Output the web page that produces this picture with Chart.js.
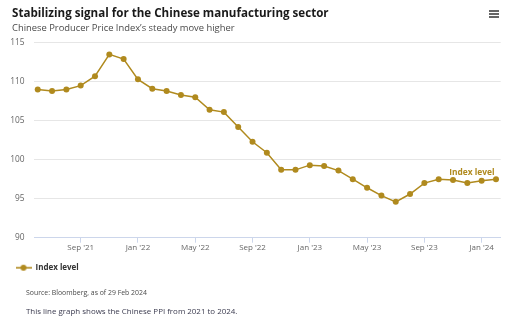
<!DOCTYPE html>
<html>
<head>
<meta charset="utf-8">
<script src="https://cdn.jsdelivr.net/npm/chart.js@4/dist/chart.umd.min.js"></script>
<style>
  html, body { margin: 0; padding: 0; background: #ffffff; }
  #wrap { position: relative; width: 512px; height: 327px; overflow: hidden; font-family: "Open Sans", sans-serif; }
  #wrap canvas { position: absolute; left: 0; top: 0; }
  .txt { position: absolute; white-space: nowrap; line-height: 1.362; }
  #title { left: 12px; top: 4.7px; font-size: 11.6px; font-weight: 700; color: #1a1a1a; }
  #subtitle { left: 12px; top: 21.7px; font-size: 9.4px; color: #4a4a4a; }
  #source { left: 26px; top: 287.6px; font-size: 6.9px; color: #4a4a4a; }
  #caption { left: 26px; top: 306.2px; font-size: 7.95px; color: #3b3b4f; }
  #menu { position: absolute; left: 489px; top: 10px; width: 10px; }
  #menu span { display: block; height: 1.6px; background: #666; margin-bottom: 1.6px; }
</style>
</head>
<body>
<div id="wrap">
  <canvas id="c" width="512" height="327"></canvas>
  <div class="txt" id="title">Stabilizing signal for the Chinese manufacturing sector</div>
  <div class="txt" id="subtitle">Chinese Producer Price Index’s steady move higher</div>
  <div id="menu"><span></span><span></span><span></span></div>
  <div class="txt" id="source">Source: Bloomberg, as of 29 Feb 2024</div>
  <div class="txt" id="caption">This line graph shows the Chinese PPI from 2021 to 2024.</div>
</div>
<script>
// ---- data ----
const months = [
  '2021-05','2021-06','2021-07','2021-08','2021-09','2021-10','2021-11','2021-12',
  '2022-01','2022-02','2022-03','2022-04','2022-05','2022-06','2022-07','2022-08',
  '2022-09','2022-10','2022-11','2022-12','2023-01','2023-02','2023-03','2023-04',
  '2023-05','2023-06','2023-07','2023-08','2023-09','2023-10','2023-11','2023-12',
  '2024-01'
];
const indexLevel = [
  109.0, 108.8, 109.0, 109.5, 110.7, 113.5, 112.9, 110.3,
  109.1, 108.8, 108.3, 108.0, 106.4, 106.1, 104.2, 102.3,
  100.9, 98.7, 98.7, 99.3, 99.2, 98.6, 97.5, 96.4,
  95.4, 94.6, 95.6, 97.0, 97.5, 97.4, 97.0, 97.3,
  97.5
];
const tickMonths = ['2021-09','2022-01','2022-05','2022-09','2023-01','2023-05','2023-09','2024-01'];
const tickLabels = ["Sep '21","Jan '22","May '22","Sep '22","Jan '23","May '23","Sep '23","Jan '24"];
const yTicks = [90, 95, 100, 105, 110, 115];
const seriesName = 'Index level';

// ---- helpers ----
// month offset from Jan 2021 at the start of a month
function monthStart(m) { const [y, mo] = m.split('-').map(Number); return (y - 2021) * 12 + (mo - 1); }
// monthly readings are stamped at month end (= start of next month)
const points = months.map((m, i) => ({ x: monthStart(m) + 1, y: indexLevel[i] }));
const tickPos = tickMonths.map(monthStart);

const GOLD = '#b08a1e';
const FONT = '"Open Sans", sans-serif';

// legend symbol: line with a dot
const sym = document.createElement('canvas');
sym.width = 16; sym.height = 8;
(function () {
  const g = sym.getContext('2d');
  g.strokeStyle = GOLD; g.lineWidth = 1.6;
  g.beginPath(); g.moveTo(0, 4); g.lineTo(16, 4); g.stroke();
  g.fillStyle = GOLD; g.beginPath(); g.arc(8, 4, 3, 0, Math.PI * 2); g.fill();
})();

const endLabel = {
  id: 'endLabel',
  afterDatasetsDraw(chart) {
    const meta = chart.getDatasetMeta(0);
    const last = meta.data[meta.data.length - 1];
    const ctx = chart.ctx;
    ctx.save();
    ctx.font = '700 8.4px ' + FONT;
    ctx.fillStyle = GOLD;
    ctx.textAlign = 'right';
    ctx.textBaseline = 'middle';
    ctx.fillText(chart.data.datasets[0].label, last.x - 1.5, last.y - 6.6);
    ctx.restore();
  }
};

new Chart(document.getElementById('c'), {
  type: 'line',
  data: {
    datasets: [{
      label: seriesName,
      data: points,
      borderColor: GOLD,
      backgroundColor: GOLD,
      borderWidth: 1.5,
      pointRadius: 3,
      pointHoverRadius: 3,
      pointBorderWidth: 0,
      pointBackgroundColor: GOLD,
      tension: 0
    }]
  },
  options: {
    responsive: false,
    animation: false,
    devicePixelRatio: 1,
    layout: { padding: { top: 42.7, right: 11.3, left: 10.5, bottom: 45.3 } },
    plugins: {
      tooltip: { enabled: false },
      title: { display: false },
      legend: {
        display: true,
        position: 'bottom',
        align: 'start',
        labels: {
          usePointStyle: true,
          pointStyle: sym,
          pointStyleWidth: 16,
          padding: 5,
          color: '#333333',
          font: { family: FONT, size: 8, weight: '700' },
          generateLabels(chart) {
            return chart.data.datasets.map((ds, i) => ({
              text: ds.label, pointStyle: sym, fontColor: '#333333',
              strokeStyle: GOLD, fillStyle: GOLD, lineWidth: 0, hidden: false, datasetIndex: i
            }));
          }
        }
      }
    },
    scales: {
      x: {
        type: 'linear',
        min: 4.74,
        max: 37.33,
        afterBuildTicks(scale) { scale.ticks = tickPos.map(v => ({ value: v })); },
        afterFit(scale) { scale.height = 21; },
        ticks: {
          autoSkip: false,
          maxRotation: 0,
          padding: 0,
          color: '#666666',
          font: { family: FONT, size: 8 },
          callback(v) { const i = tickPos.indexOf(v); return i >= 0 ? tickLabels[i] : ''; }
        },
        grid: { drawOnChartArea: false, drawTicks: true, tickLength: 5, color: '#ccd6eb', lineWidth: 1 },
        border: { display: true, color: '#ccd6eb', width: 1 }
      },
      y: {
        min: 90,
        max: 115,
        afterBuildTicks(scale) { scale.ticks = yTicks.map(v => ({ value: v })); },
        afterFit(scale) { scale.width = 23.5; },
        ticks: {
          padding: 9.5,
          color: '#666666',
          font: { family: FONT, size: 8.4 },
          callback(v) { return String(v); }
        },
        grid: { drawTicks: false, color: '#e6e6e6', lineWidth: 1 },
        border: { display: false }
      }
    }
  },
  plugins: [endLabel]
});
</script>
</body>
</html>
